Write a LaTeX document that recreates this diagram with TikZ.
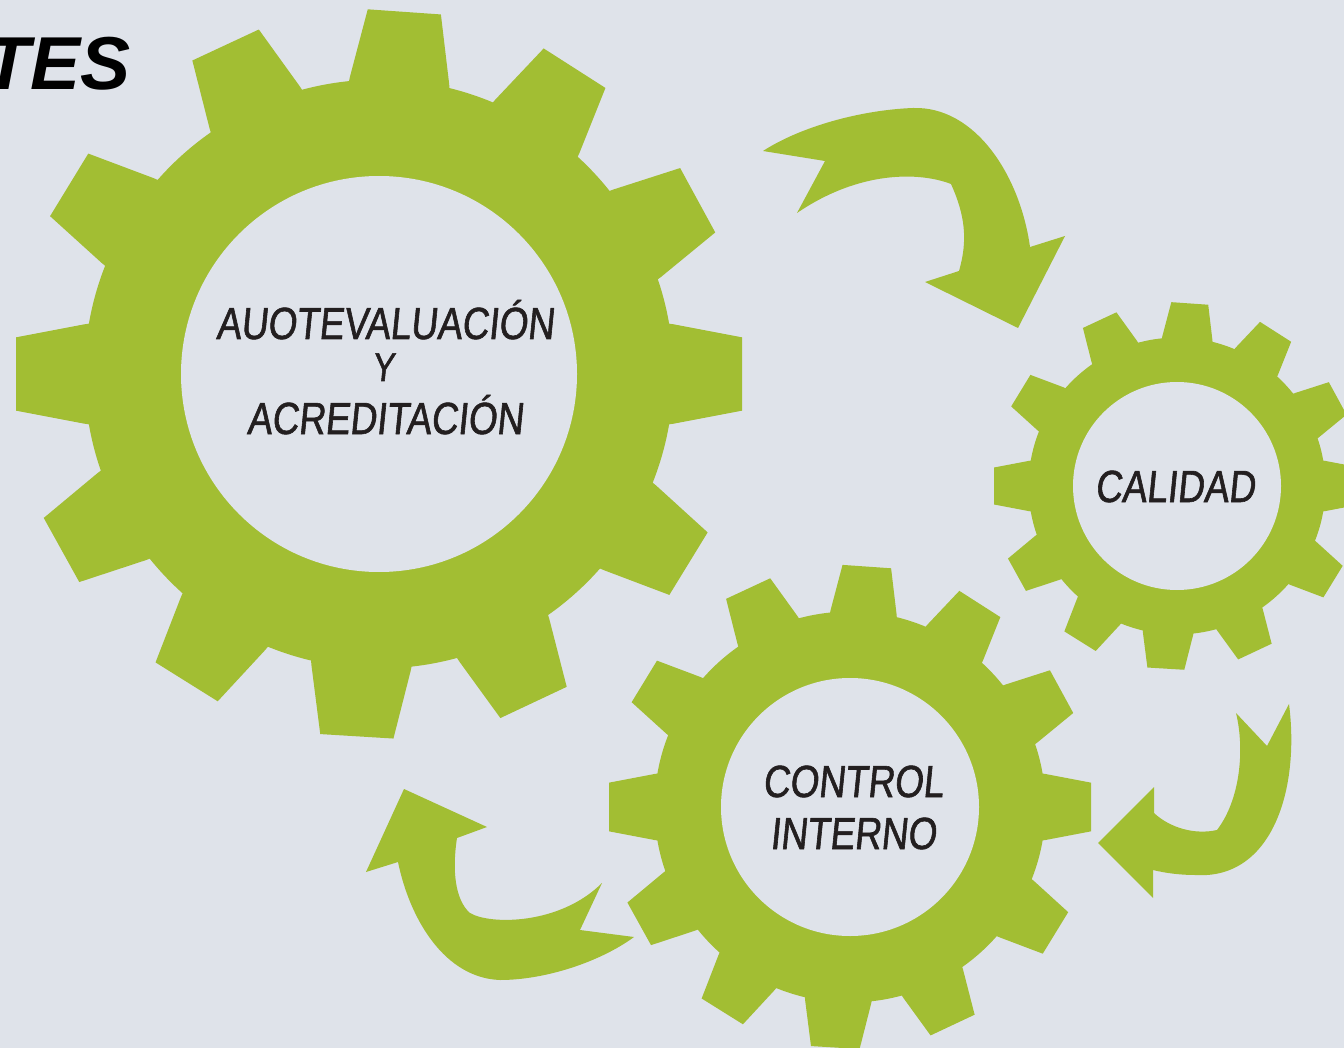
\documentclass[tikz,border=0pt]{standalone}
\usepackage{fontspec}
\setmainfont{Liberation Sans}
\newfontfamily\handfont[FakeStretch=0.82,FakeSlant=0.1,FakeBold=1.3]{Liberation Sans}
\definecolor{bgc}{HTML}{DFE3EA}
\definecolor{gearc}{HTML}{A2BE33}
\definecolor{txtc}{HTML}{231F20}
\tikzset{
  gtext/.style={font=\handfont\fontsize{45}{48}\selectfont, text=txtc, inner sep=0pt, anchor=base},
  blockarrow/.style={fill=gearc}
}
\newcommand\drawgear[5]{% cx, cy, R, hole r, name
  \begin{scope}[shift={(#1,#2)}]
    \fill[gearc] (0,0) circle ({0.811*#3});
    \foreach \a in {0,28.6,57.4,86,115,148.6,180,209,238,266.5,295.2,328.5}{
      \fill[gearc,rotate=\a] ({0.74*#3},{-0.147*#3}) -- ({0.811*#3},{-0.137*#3})
        -- ({#3},{-0.101*#3}) -- ({#3},{0.101*#3}) -- ({0.811*#3},{0.137*#3})
        -- ({0.74*#3},{0.147*#3}) -- cycle;}
    \fill[bgc] (0,0) circle (#4);
    \coordinate (#5) at (0,0);
  \end{scope}}
\begin{document}
\begin{tikzpicture}[x=1pt,y=-1pt]
\fill[bgc] (0,0) rectangle (1344,1048);
\useasboundingbox (0,0) rectangle (1344,1048);
\clip (0,0) rectangle (1344,1048);

% gears
\drawgear{379}{374}{363}{198}{g1}
\drawgear{1177}{486}{183}{104}{g2}
\drawgear{850}{807}{241}{129}{g3}

% arrow top (to CALIDAD)
\fill[blockarrow] (763,151) .. controls (800,127) and (860,110) .. (913,108)
  .. controls (975,106) and (1020,175) .. (1030,247)
  -- (1065,236) -- (1018,328) -- (925,282) -- (959,271)
  .. controls (968,240) and (965,215) .. (951,184)
  .. controls (920,172) and (860,170) .. (797,213)
  -- (825,161) -- cycle;

% arrow right (to CONTROL INTERNO)
\fill[blockarrow] (1289,704) .. controls (1300,790) and (1272,880) .. (1195,875)
  .. controls (1180,875) and (1165,873) .. (1153,870)
  -- (1153,898) -- (1098,843) -- (1154,787) -- (1154,813)
  .. controls (1170,828) and (1195,835) .. (1217,830)
  .. controls (1240,800) and (1245,750) .. (1236,713)
  -- (1267,746) -- cycle;

% arrow bottom-left (to AUTOEVALUACION)
\fill[blockarrow] (404,789) -- (487,827) -- (457,838)
  .. controls (452,870) and (455,900) .. (470,913)
  .. controls (490,925) and (560,925) .. (602,883)
  -- (580,930) -- (634,937)
  .. controls (600,962) and (545,980) .. (500,980)
  .. controls (445,978) and (410,920) .. (398,862)
  -- (366,872) -- cycle;

% texts
\node[font=\fontsize{75}{80}\selectfont\bfseries\itshape, anchor=base east, inner sep=0pt] (tes) at (131,90) {TES};
\node[gtext] (t1) at (385,339) {AUOTEVALUACIÓN};
\node[gtext, font=\handfont\fontsize{40}{42}\selectfont] (t2) at (383,381) {Y};
\node[gtext] (t3) at (385,434) {ACREDITACIÓN};
\node[gtext] (cal) at (1175,502) {CALIDAD};
\node[gtext] (con) at (853,797) {CONTROL};
\node[gtext] (int) at (853,849) {INTERNO};
\end{tikzpicture}
\end{document}
